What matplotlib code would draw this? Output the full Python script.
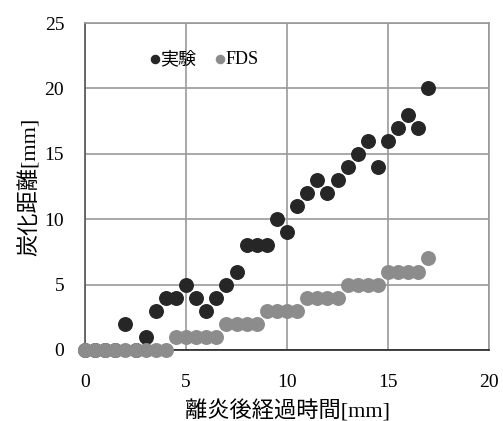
import matplotlib
matplotlib.use("Agg")
import matplotlib.pyplot as plt
import numpy as np

plt.rcParams['font.family'] = ['Liberation Serif', 'Noto Sans CJK JP', 'DejaVu Sans']

x_values = [0, 0.5, 1, 1.5, 2, 2.5, 3, 3.5, 4, 4.5, 5, 5.5, 6, 6.5, 7, 7.5, 8, 8.5,
            9, 9.5, 10, 10.5, 11, 11.5, 12, 12.5, 13, 13.5, 14, 14.5, 15, 15.5, 16, 16.5, 17]
experiment = [0, 0, 0, 0, 2, 0, 1, 3, 4, 4, 5, 4, 3, 4, 5, 6, 8, 8,
              8, 10, 9, 11, 12, 13, 12, 13, 14, 15, 16, 14, 16, 17, 18, 17, 20]
fds = [0, 0, 0, 0, 0, 0, 0, 0, 0, 1, 1, 1, 1, 1, 2, 2, 2, 2,
       3, 3, 3, 3, 4, 4, 4, 4, 5, 5, 5, 5, 6, 6, 6, 6, 7]
series_labels = ['実験', 'FDS']
x_ticks = [0, 5, 10, 15, 20]
y_ticks = [0, 5, 10, 15, 20, 25]

fig = plt.figure(figsize=(5.03, 4.21), dpi=100)
ax = fig.add_axes([85/503, 1-350/421, (489-85)/503, (350-23)/421])

ax.scatter(x_values, experiment, s=95, color='#262626', label=series_labels[0], zorder=3, clip_on=False)
ax.scatter(x_values, fds, s=95, color='#8c8c8c', label=series_labels[1], zorder=4, clip_on=False)

ax.set_xlim(0, 20)
ax.set_ylim(0, 25)
ax.set_xticks(x_ticks)
ax.set_yticks(y_ticks)
ax.grid(True, color='#999999', linewidth=1.2)
ax.set_axisbelow(True)
ax.tick_params(length=0, labelsize=14)
ax.tick_params(axis='y', pad=15)
ax.tick_params(axis='x', pad=17)
for side in ['top', 'right']:
    ax.spines[side].set_color('#999999')
    ax.spines[side].set_linewidth(1.2)
ax.spines['left'].set_color('#555555')
ax.spines['left'].set_linewidth(1.2)
ax.spines['bottom'].set_color('#222222')
ax.spines['bottom'].set_linewidth(1.2)

ax.set_xlabel('離炎後経過時間[mm]', fontsize=16, labelpad=7)
ax.set_ylabel('炭化距離[mm]', fontsize=16, labelpad=3)

leg = ax.legend(loc='upper left', bbox_to_anchor=(0.133, 0.937), ncol=2, frameon=False,
                fontsize=13, markerscale=0.6, handletextpad=-0.2, columnspacing=0.8,
                handlelength=1.0, borderaxespad=0)

fig.savefig('out.png', dpi=100)
